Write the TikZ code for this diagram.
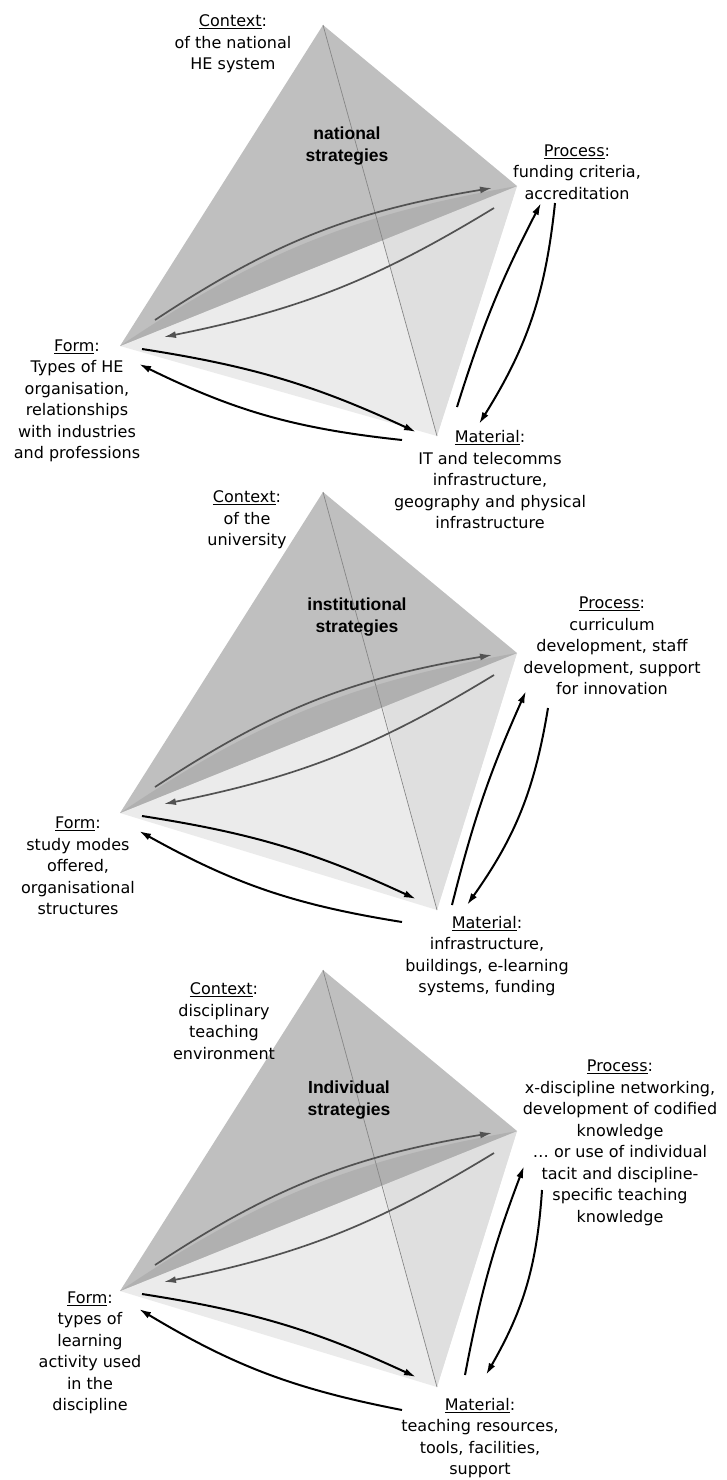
\documentclass[tikz,border=0pt]{standalone}
\usepackage{fontspec}
\setmainfont{DejaVu Sans}
\newfontfamily\arialfont{Liberation Sans}
\usetikzlibrary{arrows.meta}

\tikzset{
  edge/.style={draw=gray!95, line width=0.7pt},
  link/.style={-{Latex[length=12pt,width=7pt]}, line width=2pt, black},
  greylink/.style={-{Latex[length=12pt,width=7pt]}, line width=1.7pt, black!68},
  corner/.style={align=center, inner sep=0pt, font=\fontsize{16}{21.5}\selectfont},
  strategy/.style={align=center, inner sep=0pt, font=\arialfont\bfseries\fontsize{17.5}{21.5}\selectfont}
}

\begin{document}
\begin{tikzpicture}[x=1pt, y=-1pt]
  \useasboundingbox (0,0) rectangle (726,1480);

  % the three tetrahedra
  \foreach \n/\s/\my/\fy in {1/0/436/440, 2/467/443/455, 3/945/442/465} {
    \begin{scope}[shift={(0,\s)}]
      \coordinate (c\n) at (323,25);
      \coordinate (p\n) at (517,186);
      \coordinate (f\n) at (120,346);
      \coordinate (m\n) at (437,\my);
      \coordinate (x\n) at (383,240);
      \fill[gray!16] (f\n) -- (p\n) -- (m\n) -- cycle;
      \fill[gray!25] (x\n) -- (p\n) -- (m\n) -- cycle;
      \fill[gray!50] (c\n) -- (p\n) -- (f\n) -- cycle;
      \fill[gray!62] (f\n) to[bend left=12] (p\n) -- cycle;
      \draw[edge] (c\n) -- (m\n);
      % arrows between form and process
      \coordinate (fp\n) at (155,320);
      \coordinate (pf\n) at (492,188);
      \coordinate (pq\n) at (494,208);
      \coordinate (fq\n) at (164,337);
      \draw[greylink] (fp\n) to[bend left=12] (pf\n);
      \draw[greylink] (pq\n) to[bend left=10] (fq\n);
      % arrows between form and material
      \coordinate (fm\n) at (142,349);
      \coordinate (mf\n) at (416,432);
      \coordinate (mg\n) at (402,\fy);
      \coordinate (fg\n) at (139,364);
      \draw[link] (fm\n) to[bend left=8] (mf\n);
      \draw[link] (mg\n) to[bend left=10] (fg\n);
    \end{scope}
  }

  % arrows between material and process
  \coordinate (mp1) at (457,407);
  \coordinate (pm1) at (541,203);
  \coordinate (pn1) at (555,203);
  \coordinate (mn1) at (479,424);
  \coordinate (mp2) at (452,905);
  \coordinate (pm2) at (526,691);
  \coordinate (pn2) at (548,708);
  \coordinate (mn2) at (467,905);
  \coordinate (mp3) at (465,1375);
  \coordinate (pm3) at (524,1166);
  \coordinate (pn3) at (542,1190);
  \coordinate (mn3) at (486,1375);
  \foreach \n in {1,2,3} {
    \draw[link] (mp\n) to[bend left=5] (pm\n);
    \draw[link] (pn\n) to[bend left=13] (mn\n);
  }

  % labels
  \node[strategy] (strat1) at (347,146) {national\\strategies};
  \node[strategy] (strat2) at (357,617) {institutional\\strategies};
  \node[strategy] (strat3) at (349,1100) {Individual\\strategies};

  \node[corner] (ctx1) at (233,44) {\underline{Context}:\\of the national\\HE system};
  \node[corner] (proc1) at (577,172) {\underline{Process}:\\funding criteria,\\accreditation};
  \node[corner] (form1) at (77,401) {\underline{Form}:\\Types of HE\\organisation,\\relationships\\with industries\\and professions};
  \node[corner] (mat1) at (490,480) {\underline{Material}:\\IT and telecomms\\infrastructure,\\geography and physical\\infrastructure};

  \node[corner] (ctx2) at (247,520) {\underline{Context}:\\of the\\university};
  \node[corner] (proc2) at (612,646) {\underline{Process}:\\curriculum\\development, staff\\development, support\\for innovation};
  \node[corner] (form2) at (78,866) {\underline{Form}:\\study modes\\offered,\\organisational\\structures};
  \node[corner] (mat2) at (487,956) {\underline{Material}:\\infrastructure,\\buildings, e-learning\\systems, funding};

  \node[corner] (ctx3) at (224,1021) {\underline{Context}:\\disciplinary\\teaching\\environment};
  \node[corner] (proc3) at (620,1143) {\underline{Process}:\\x-discipline networking,\\development of codified\\knowledge\\\dots{} or use of individual\\tacit and discipline-\\specific teaching\\knowledge};
  \node[corner] (form3) at (90,1353) {\underline{Form}:\\types of\\learning\\activity used\\in the\\discipline};
  \node[corner] (mat3) at (480,1438) {\underline{Material}:\\teaching resources,\\tools, facilities,\\support};
\end{tikzpicture}
\end{document}
